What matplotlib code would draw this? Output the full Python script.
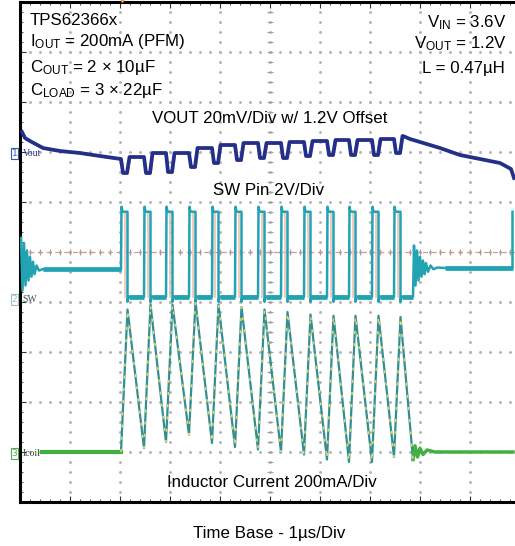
import matplotlib
matplotlib.use("Agg")
import matplotlib.pyplot as plt
import numpy as np

plt.rcParams['font.family'] = ['Liberation Sans', 'DejaVu Sans']
plt.rcParams['mathtext.fontset'] = 'custom'
plt.rcParams['mathtext.rm'] = 'Liberation Sans'
plt.rcParams['mathtext.it'] = 'Liberation Sans:italic'
plt.rcParams['mathtext.bf'] = 'Liberation Sans:bold'

# ---------------- data (time in µs, 1 µs/div) ----------------
# switching edges of the PFM burst
sw_rise_us = [2.02, 2.48, 2.92, 3.38, 3.84, 4.30, 4.76, 5.22, 5.68, 6.14, 6.58, 7.04, 7.48]
sw_fall_us = [2.15, 2.61, 3.05, 3.51, 3.97, 4.43, 4.89, 5.35, 5.81, 6.27, 6.71, 7.17, 7.61]
sw_burst_end_us = 7.86
sw_next_rise_us = 9.85
sw_high_v = 3.45
sw_spike_v = 3.65
sw_low_v = 0.05
sw_idle_pre_v = 1.15
sw_idle_post_v = 1.2
sw_ring_pre_us = [0.02, 0.05, 0.08, 0.11, 0.14, 0.17, 0.20, 0.23, 0.26, 0.29, 0.33, 0.38, 0.45]
sw_ring_pre_v = [2.4, 0.3, 2.2, 0.5, 1.9, 0.7, 1.65, 0.85, 1.45, 0.95, 1.3, 1.1, 1.15]
sw_ring_post_us = [7.86, 7.88, 7.91, 7.94, 7.97, 8.00, 8.03, 8.06, 8.09, 8.12, 8.16, 8.21, 8.27, 8.35, 8.50]
sw_ring_post_v = [0.05, 2.1, 0.5, 1.9, 0.7, 1.65, 0.85, 1.5, 0.95, 1.4, 1.05, 1.3, 1.15, 1.22, 1.2]

# output voltage ripple (mV around the 1.2 V offset)
vout_pre_us = [0.04, 0.10, 0.20, 0.46, 0.80, 1.20, 1.60, 2.02]
vout_pre_mv = [8.0, 5.6, 4.4, 1.6, 0.4, -0.4, -1.6, -2.8]
vout_dip_mv = [-8.4, -8.4, -8.0, -6.0, -4.4, -3.2, -2.4, -2.4, -1.6, -1.2, -1.2, -1.2, -0.4]
vout_high_mv = [-2.0, -0.4, -0.4, 1.6, 2.8, 3.6, 3.6, 4.0, 4.4, 4.8, 4.8, 5.2, 6.4]
vout_post_us = [7.66, 7.80, 8.00, 8.40, 8.80, 9.20, 9.60, 9.82, 9.88]
vout_post_mv = [6.4, 5.2, 4.0, 1.6, -1.2, -2.8, -4.4, -6.8, -10.4]

# inductor current (mA)
il_pre_us = [0.44, 2.02]
il_pre_ma = [0, 0]
il_valley_ma = [0, 16, 40, 70, 36, 20, 10, 0, -10, -30, -40, -40, -20]
il_peak_ma = [570, 590, 590, 600, 590, 580, 570, 560, 550, 545, 545, 545, 540]
il_end_ma = -30
il_post_us = [7.86, 7.90, 7.95, 8.00, 8.06, 8.14, 8.30, 9.86]
il_post_ma = [-30, 25, -20, 15, -10, 8, 0, 0]

# channel reference levels (div) and scales
VOUT_REF, VOUT_SCALE = 7.0, 20.0     # mV/div
SW_REF, SW_SCALE = 4.08, 2.0         # V/div
IL_REF, IL_SCALE = 1.0, 200.0        # mA/div

C_VOUT = '#22308a'
C_SW = '#22a3b2'
C_IL = '#2f8f95'
C_IL_Y = '#e6d868'
C_IL_G = '#44b044'

W, H = 515, 546
fig = plt.figure(figsize=(W / 100, H / 100), dpi=100)
fig.patch.set_facecolor('white')
ax = fig.add_axes([20 / W, 44 / H, 500 / W, 500 / H])
ax.set_xlim(0, 10)
ax.set_ylim(0, 10)

# ---- graticule ----
minor = np.arange(0, 10.001, 0.2)
for k in range(1, 10):
    ax.plot(minor, np.full_like(minor, k), ls='none', marker='.', ms=2.2,
            color='#b4b4b4', zorder=1)
    ax.plot(np.full_like(minor, k), minor, ls='none', marker='.', ms=2.2,
            color='#b4b4b4', zorder=1)
ax.plot(minor, np.full_like(minor, 5), ls='none', marker='|', ms=4,
        mew=0.8, color='#a0a0a0', zorder=1)
ax.plot(np.full_like(minor, 5), minor, ls='none', marker='_', ms=4,
        mew=0.8, color='#a0a0a0', zorder=1)
ax.axhline(5, color='#e8908a', lw=0.9, ls=(0, (4, 3)), zorder=1.5)

ax.set_xticks(np.arange(0, 11, 1))
ax.set_yticks(np.arange(0, 11, 1))
ax.set_xticks(minor, minor=True)
ax.set_yticks(minor, minor=True)
ax.tick_params(which='both', direction='in', top=True, right=False,
               labelbottom=False, labelleft=False, color='#333333')
ax.tick_params(which='major', length=4, width=0.8)
ax.tick_params(which='minor', length=2.5, width=0.6)
for s in ['left', 'top', 'bottom']:
    ax.spines[s].set_linewidth(2.2)
ax.spines['right'].set_visible(False)

# ---- SW trace ----
sw_t = list(sw_ring_pre_us) + [sw_rise_us[0]]
sw_v = list(sw_ring_pre_v) + [sw_idle_pre_v]
for i, (tr, tf) in enumerate(zip(sw_rise_us, sw_fall_us)):
    sw_t += [tr, tr + 0.01, tr + 0.03, tf, tf, tf + 0.02]
    sw_v += [sw_v[-1], sw_spike_v, sw_high_v, sw_high_v, -0.15, sw_low_v]
    nxt = sw_rise_us[i + 1] if i + 1 < len(sw_rise_us) else sw_burst_end_us
    sw_t += [nxt]
    sw_v += [sw_low_v]
sw_t += list(sw_ring_post_us) + [sw_next_rise_us, sw_next_rise_us]
sw_v += list(sw_ring_post_v) + [sw_idle_post_v, sw_high_v]
sw_t = np.array(sw_t)
sw_v = np.array(sw_v)

# ghost (pink) edges
for tr in sw_rise_us:
    ax.plot([tr + 0.07, tr + 0.07], [SW_REF + sw_low_v / SW_SCALE, SW_REF + sw_high_v / SW_SCALE],
            color='#f3bfae', lw=1.2, zorder=2)
ax.plot(sw_t, SW_REF + sw_v / SW_SCALE, color=C_SW, lw=1.8, zorder=3)
# thicker (noisy) flat levels
for lvl in (sw_low_v, sw_idle_pre_v, sw_idle_post_v):
    mask = np.isclose(sw_v, lvl)
    seg = np.where(mask, SW_REF + sw_v / SW_SCALE, np.nan)
    ax.plot(sw_t, seg, color=C_SW, lw=3.4, zorder=3, solid_capstyle='butt')

# ---- inductor current ----
il_t = [sw_rise_us[0]]
il_v = [il_valley_ma[0]]
for i, tf in enumerate(sw_fall_us):
    il_t.append(tf)
    il_v.append(il_peak_ma[i])
    if i + 1 < len(sw_rise_us):
        il_t.append(sw_rise_us[i + 1])
        il_v.append(il_valley_ma[i + 1])
il_t.append(sw_burst_end_us)
il_v.append(il_end_ma)
il_t = np.array(il_t)
il_y = IL_REF + np.array(il_v) / IL_SCALE
ax.plot(il_t, il_y, color=C_IL, lw=1.6, zorder=3)
ax.plot(il_t, il_y, color=C_IL_Y, lw=1.1, ls=(0, (2, 6)), zorder=3.2)
ax.plot(il_pre_us, IL_REF + np.array(il_pre_ma) / IL_SCALE, color=C_IL_G, lw=3, zorder=3)
ax.plot(il_post_us, IL_REF + np.array(il_post_ma) / IL_SCALE, color=C_IL_G, lw=2.5, zorder=3)

# ---- VOUT ----
vo_t = list(vout_pre_us)
vo_v = list(vout_pre_mv)
for i, tr in enumerate(sw_rise_us):
    vo_t += [tr + 0.04, tr + 0.12, tr + 0.17]
    vo_v += [vout_dip_mv[i], vout_dip_mv[i], vout_high_mv[i]]
    if i + 1 < len(sw_rise_us):
        vo_t.append(sw_rise_us[i + 1])
        vo_v.append(vout_high_mv[i])
vo_t += list(vout_post_us)
vo_v += list(vout_post_mv)
vo_t = np.array(vo_t)
vo_y = VOUT_REF + np.array(vo_v) / VOUT_SCALE
ax.plot(vo_t + 0.02, vo_y - 0.02, color='#e89a98', lw=1.0, zorder=3.5)
ax.plot(vo_t, vo_y, color=C_VOUT, lw=2.7, zorder=4)

# trigger marker
ax.plot([2.04], [10.06], marker='v', ms=5, color='#f0a040', clip_on=False, zorder=6)


def P(x, y):
    return x / W, 1 - y / H


fs = 12.2
fig.text(*P(30, 25), "TPS62366x", fontsize=fs, ha='left', va='baseline')
fig.text(*P(30, 46), r"I$_{\mathrm{OUT}}$ = 200mA (PFM)", fontsize=fs, ha='left', va='baseline')
fig.text(*P(30, 72), r"C$_{\mathrm{OUT}}$ = 2 × 10µF", fontsize=fs, ha='left', va='baseline')
fig.text(*P(30, 95), r"C$_{\mathrm{LOAD}}$ = 3 × 22µF", fontsize=fs, ha='left', va='baseline')
fig.text(*P(507, 27), r"V$_{\mathrm{IN}}$ = 3.6V", fontsize=fs, ha='right', va='baseline')
fig.text(*P(507, 48), r"V$_{\mathrm{OUT}}$ = 1.2V", fontsize=fs, ha='right', va='baseline')
fig.text(*P(505, 73), "L = 0.47µH", fontsize=fs, ha='right', va='baseline')
fig.text(*P(270, 123), "VOUT 20mV/Div w/ 1.2V Offset", fontsize=fs, ha='center', va='baseline')
fig.text(*P(269, 195), "SW Pin 2V/Div", fontsize=fs, ha='center', va='baseline')
fig.text(*P(272, 487), "Inductor Current 200mA/Div", fontsize=fs, ha='center', va='baseline')
fig.text(*P(269, 538), "Time Base - 1µs/Div", fontsize=fs, ha='center', va='baseline')

# channel markers
chan = [("1", "Vout", 152, '#3a55a8', C_VOUT),
        ("2", "SW", 298, '#9bbfc4', '#335555'),
        ("3", "Icoil", 452, '#4caf50', '#2f4f2f')]
for num, lab, yy, bc, tc in chan:
    fig.text(*P(14.5, yy + 4), num, fontsize=6.5, ha='center', va='baseline',
             family='DejaVu Sans', color=bc,
             bbox=dict(boxstyle='square,pad=0.12', fc='white', ec=bc, lw=0.8))
    fig.text(*P(22.5, yy + 4), lab, fontsize=7, ha='left', va='baseline',
             family='Liberation Serif', color=tc)

fig.savefig('out.png', dpi=100)
